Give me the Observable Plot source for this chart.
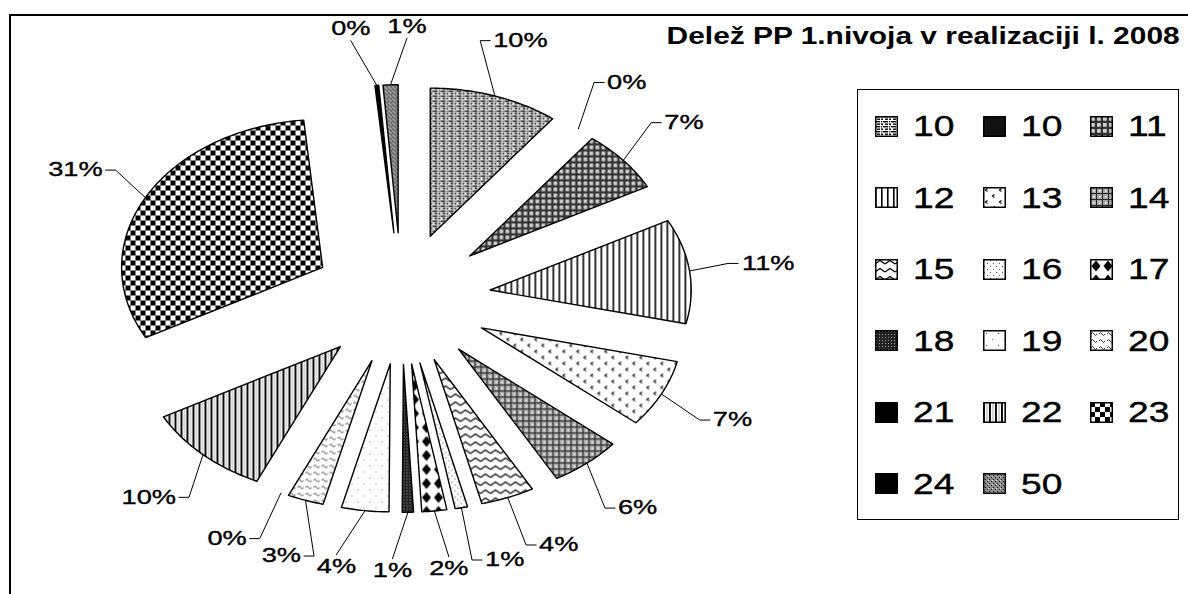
<!DOCTYPE html>
<html><head><meta charset="utf-8">
<script src="https://cdn.jsdelivr.net/npm/d3@7"></script>
<script src="https://cdn.jsdelivr.net/npm/@observablehq/plot@0.6"></script>
<style>
html,body{margin:0;padding:0;background:#fff;}
#wrap{position:relative;width:1188px;height:594px;overflow:hidden;font-family:"Liberation Sans",Arial,sans-serif;background:#fff;}
#frame{position:absolute;left:9px;top:14px;width:1300px;height:700px;border-left:2px solid #000;border-top:2px solid #000;}
#chart{position:absolute;left:0;top:0;}
#title{position:absolute;right:8px;top:22px;font-weight:bold;font-size:23px;line-height:28px;transform:scaleX(1.3);transform-origin:right center;white-space:nowrap;color:#000;}
#legend{position:absolute;left:857px;top:89px;width:322px;height:431px;border:1.5px solid #000;box-sizing:border-box;}
.item{position:absolute;display:flex;align-items:center;height:34px;}
.sw{display:block;width:23px;height:21px;}
.lt{font-size:29px;line-height:34px;margin-left:15px;transform:scaleX(1.28);transform-origin:left center;color:#000;-webkit-text-stroke:0.4px #000;}
</style>
</head><body>
<svg width="0" height="0" style="position:absolute">
<defs>
<pattern id="p10a" patternUnits="userSpaceOnUse" width="8" height="5">
  <rect width="8" height="5" fill="#fff"/>
  <rect x="0" y="0" width="5" height="1.4" fill="#000"/><rect x="6" y="0" width="1.2" height="1.4" fill="#000"/>
  <rect x="2" y="2.5" width="3" height="1.4" fill="#000"/><rect x="6" y="2.5" width="2" height="1.4" fill="#000"/>
</pattern>
<pattern id="p10b" patternUnits="userSpaceOnUse" width="4" height="4"><rect width="4" height="4" fill="#111"/></pattern>
<pattern id="p11" patternUnits="userSpaceOnUse" width="6" height="6">
  <rect width="6" height="6" fill="#333"/>
  <rect x="1.2" y="1.2" width="3.4" height="3.4" fill="#fff"/>
  <rect x="2.4" y="2.4" width="1.1" height="1.1" fill="#555"/>
</pattern>
<pattern id="p12" patternUnits="userSpaceOnUse" width="6" height="6">
  <rect width="6" height="6" fill="#fff"/>
  <rect x="0" y="0" width="1.6" height="6" fill="#000"/>
</pattern>
<pattern id="p13" patternUnits="userSpaceOnUse" width="14" height="12">
  <rect width="14" height="12" fill="#fff"/>
  <path d="M4.5,1.5 L2.5,3 L4.5,4.5" fill="none" stroke="#000" stroke-width="1.2"/>
  <path d="M11.5,7.5 L9.5,9 L11.5,10.5" fill="none" stroke="#000" stroke-width="1.2"/>
</pattern>
<pattern id="p14" patternUnits="userSpaceOnUse" width="6" height="6">
  <rect width="6" height="6" fill="#a8a8a8"/>
  <rect x="0" y="0" width="6" height="1" fill="#222"/>
  <rect x="0" y="0" width="1" height="6" fill="#222"/>
  <rect x="3" y="3" width="1.6" height="1.6" fill="#fff"/>
</pattern>
<pattern id="p15" patternUnits="userSpaceOnUse" width="10" height="8">
  <rect width="10" height="8" fill="#fff"/>
  <path d="M0,5 L5,1.5 L10,5" fill="none" stroke="#000" stroke-width="1.2"/>
</pattern>
<pattern id="p16" patternUnits="userSpaceOnUse" width="6" height="6">
  <rect width="6" height="6" fill="#fff"/>
  <rect x="1" y="1" width="1" height="1" fill="#555"/><rect x="4" y="4" width="1" height="1" fill="#555"/>
</pattern>
<pattern id="p17" patternUnits="userSpaceOnUse" width="12" height="14">
  <rect width="12" height="14" fill="#fff"/>
  <path d="M6,1.5 L10.5,7 L6,12.5 L1.5,7 Z" fill="#000"/>
</pattern>
<pattern id="p18" patternUnits="userSpaceOnUse" width="3" height="3">
  <rect width="3" height="3" fill="#222"/>
  <rect x="1" y="1" width="1" height="1" fill="#999"/>
</pattern>
<pattern id="p19" patternUnits="userSpaceOnUse" width="12" height="12">
  <rect width="12" height="12" fill="#fff"/>
  <rect x="3" y="3" width="1" height="1" fill="#777"/><rect x="9" y="9" width="1" height="1" fill="#777"/>
</pattern>
<pattern id="p20" patternUnits="userSpaceOnUse" width="8" height="7">
  <rect width="8" height="7" fill="#fff"/>
  <path d="M1,4 q1.5,-3 3,0 q1.5,3 3,0" fill="none" stroke="#333" stroke-width="1"/>
</pattern>
<pattern id="p21" patternUnits="userSpaceOnUse" width="4" height="4"><rect width="4" height="4" fill="#000"/></pattern>
<pattern id="p22" patternUnits="userSpaceOnUse" width="6" height="6">
  <rect width="6" height="6" fill="#fff"/>
  <rect x="0" y="0" width="1.9" height="6" fill="#000"/>
  <rect x="3.6" y="0" width="0.8" height="6" fill="#999"/>
</pattern>
<pattern id="p23" patternUnits="userSpaceOnUse" width="10" height="10">
  <rect width="10" height="10" fill="#fff"/>
  <rect x="0" y="0" width="5" height="5" fill="#000"/>
  <rect x="5" y="5" width="5" height="5" fill="#000"/>
</pattern>
<pattern id="p24" patternUnits="userSpaceOnUse" width="4" height="4"><rect width="4" height="4" fill="#000"/></pattern>
<pattern id="p50" patternUnits="userSpaceOnUse" width="4" height="4">
  <rect width="4" height="4" fill="#8c8c8c"/>
  <rect x="0" y="0" width="1" height="1" fill="#111"/><rect x="2" y="2" width="1" height="1" fill="#111"/>
  <rect x="1" y="3" width="1" height="1" fill="#ddd"/>
</pattern>
</defs>
</svg>
<div id="wrap">
  <div id="frame"></div>
  <div id="chart"></div>
  <div id="legend"></div>
  <div id="title">Delež PP 1.nivoja v realizaciji l. 2008</div>
</div>
<script>
// ---- data ----
const categories = ["10","10","11","12","13","14","15","16","17","18","19","20","21","22","23","24","50"];
const shares     = [10.4, 0, 6.8, 11.4, 7.4, 5.8, 4.3, 1.0, 2.0, 0.9, 3.8, 2.9, 0, 10.3, 31.3, 0.3, 1.2];
const patterns   = ["p10a","p10b","p11","p12","p13","p14","p15","p16","p17","p18","p19","p20","p21","p22","p23","p24","p50"];
const pctLabels  = shares.map(v => Math.round(v) + "%");

// ---- layout ----
const W = 1188, H = 594;
const CX = 401, CY = 298, SX = 201, SY = 148; // pie centre and radii (px)
const E = 0.445;       // explode distance (in radii)
const RL = 1.84;       // label centre radius
const FS = 20, STRETCH = 1.36;

const total = d3.sum(shares);
let cum = 0;
const slices = shares.map((v, i) => {
  const a0 = cum / total * 2 * Math.PI; cum += v;
  const a1 = cum / total * 2 * Math.PI;
  const m = (a0 + a1) / 2;
  const ox = E * Math.sin(m), oy = E * Math.cos(m);
  const pts = [{x: ox, y: oy}];
  const steps = Math.max(2, Math.ceil((a1 - a0) / (Math.PI / 180)));
  for (let k = 0; k <= steps; k++) {
    const t = a0 + (a1 - a0) * k / steps;
    pts.push({x: ox + Math.sin(t), y: oy + Math.cos(t)});
  }
  pts.push({x: ox, y: oy});
  return {i, v, a0, a1, m, pts};
});

// label angles with simple collision relaxation
const n = slices.length;
const la = slices.map(s => s.m);
const P = a => [RL * Math.sin(a) * SX, RL * Math.cos(a) * SY];
for (let it = 0; it < 800; it++) {
  for (let i = 0; i < n; i++) {
    const j = (i + 1) % n;
    const p = P(la[i]), q = P(la[j]);
    if (Math.hypot(p[0] - q[0], p[1] - q[1]) < 56) { la[i] -= 0.0015; la[j] += 0.0015; }
  }
}

const labelData = [], leaderPts = [];
slices.forEach((s, i) => {
  const a = la[i];
  const cx = RL * Math.sin(a), cy = RL * Math.cos(a);
  const txt = pctLabels[i];
  const w = FS * STRETCH * (0.556 * (txt.length - 1) + 0.889);
  labelData.push({x: cx, y: cy, text: txt});
  const A = {x: (1 + E) * Math.sin(s.m), y: (1 + E) * Math.cos(s.m)};
  const sn = Math.sin(a);
  let pts;
  if (Math.abs(sn) > 0.18) {
    const side = sn > 0 ? 1 : -1;
    const L = {x: cx - side * (w / 2 + 3) / SX, y: cy};
    const B = {x: L.x - side * 10 / SX, y: cy};
    pts = [A, B, L];
  } else {
    const up = Math.cos(a) > 0 ? 1 : -1;
    pts = [A, {x: cx, y: cy - up * 12 / SY}];
  }
  pts.forEach(p => leaderPts.push({...p, k: i}));
});

const marks = [];
slices.filter(s => s.v > 0).forEach(s => {
  marks.push(Plot.line(s.pts, {x: "x", y: "y", fill: `url(#${patterns[s.i]})`, stroke: "#000", strokeWidth: 1.4, strokeLinejoin: "round"}));
});
marks.push(Plot.line(leaderPts, {x: "x", y: "y", z: "k", stroke: "#000", strokeWidth: 1}));
marks.push(Plot.text(labelData, {x: "x", y: "y", text: "text", fontSize: FS, fill: "#000", stroke: "#000", strokeWidth: 0.35, fontFamily: "Liberation Sans, Arial, sans-serif", textAnchor: "middle", lineAnchor: "middle"}));

const chart = Plot.plot({
  width: W, height: H, margin: 0,
  style: {background: "transparent", overflow: "visible"},
  x: {domain: [-CX / SX, (W - CX) / SX], range: [0, W], axis: null},
  y: {domain: [(CY - H) / SY, CY / SY], range: [H, 0], axis: null},
  marks
});
chart.querySelectorAll("text").forEach(t => {
  const tr = t.getAttribute("transform");
  if (tr && tr.includes("translate")) {
    t.setAttribute("transform", tr + ` scale(${STRETCH},1)`);
  } else {
    const x = +t.getAttribute("x") || 0, y = +t.getAttribute("y") || 0;
    t.setAttribute("x", 0); t.setAttribute("y", 0);
    t.setAttribute("transform", `translate(${x},${y}) scale(${STRETCH},1)`);
  }
});
document.getElementById("chart").appendChild(chart);

// legend
const leg = document.getElementById("legend");
categories.forEach((c, i) => {
  const col = i % 3, row = Math.floor(i / 3);
  const it = document.createElement("div");
  it.className = "item";
  it.style.left = (17 + col * 107.5) + "px";
  it.style.top = (36 + row * 71.5 - 17) + "px";
  it.innerHTML = `<svg class="sw" width="23" height="21"><rect x="0.75" y="0.75" width="21.5" height="19.5" fill="url(#${patterns[i]})" stroke="#000" stroke-width="1.5"/></svg><span class="lt">${c}</span>`;
  leg.appendChild(it);
});
</script>
</body></html>
